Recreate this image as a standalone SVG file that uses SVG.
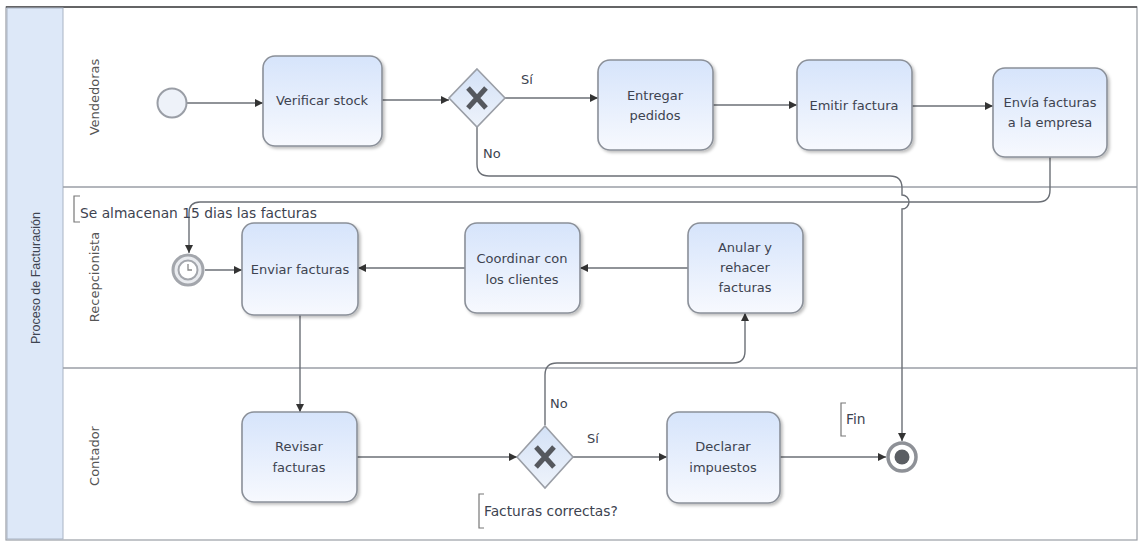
<svg xmlns="http://www.w3.org/2000/svg" width="1140" height="545" viewBox="0 0 1140 545">
<style>
text{font-family:"DejaVu Sans","Liberation Sans",Arial,sans-serif;fill:#3d4350;font-size:13px}
.task{fill:url(#tg);stroke:#8b9099;stroke-width:1.6;filter:url(#sh)}
.lbl{text-anchor:middle}
.lane{font-size:13px;fill:#555}
.note{font-size:13.8px}
.conn path{fill:none;stroke:#6b6f76;stroke-width:1.4}
.arr{marker-end:url(#ah)}
.ann{fill:none;stroke:#777;stroke-width:1.2}
.gw{fill:url(#gg);stroke:#9a9ea6;stroke-width:1.6}
.x{stroke:#55585e;stroke-width:5;stroke-linecap:butt}
</style>
<defs>
<linearGradient id="tg" x1="0" y1="0" x2="0" y2="1"><stop offset="0" stop-color="#d6e4fb"/><stop offset="1" stop-color="#f7f9fe"/></linearGradient>
<linearGradient id="gg" x1="0" y1="0" x2="0" y2="1"><stop offset="0" stop-color="#d3e1f6"/><stop offset="1" stop-color="#eef3fb"/></linearGradient>
<filter id="sh" x="-10%" y="-10%" width="125%" height="125%"><feDropShadow dx="2" dy="2" stdDeviation="1.5" flood-color="#000" flood-opacity="0.25"/></filter>
<marker id="ah" viewBox="0 0 10 10" refX="10" refY="5" markerWidth="8" markerHeight="8" markerUnits="userSpaceOnUse" orient="auto"><path d="M0,0 L10,5 L0,10 Z" fill="#333"/></marker>
</defs>
<rect width="1140" height="545" fill="#fff"/>
<g id="pool">
<rect x="6" y="7" width="1131" height="533" fill="none" stroke="#9a9ea6" stroke-width="1.2"/>
<line x1="6" y1="7" x2="1137" y2="7" stroke="#444" stroke-width="1.6"/>
<rect x="7" y="8" width="56" height="531" fill="#dde8f8" stroke="#a9b4c4" stroke-width="1"/>
<text transform="translate(40,278) rotate(-90)" class="lbl" style="font-family:'Liberation Sans',Arial,sans-serif;font-size:12.5px">Proceso de Facturación</text>
<line x1="63" y1="187" x2="1137" y2="187" stroke="#9a9ea6" stroke-width="1.6"/>
<line x1="63" y1="368" x2="1137" y2="368" stroke="#9a9ea6" stroke-width="1.6"/>
<text class="lane lbl" transform="translate(99,97) rotate(-90)">Vendedoras</text>
<text class="lane lbl" transform="translate(99,277) rotate(-90)">Recepcionista</text>
<text class="lane lbl" transform="translate(99,456) rotate(-90)">Contador</text>
</g>
<g class="conn" id="connectors">
<path class="arr" d="M187,103 H263"/>
<path class="arr" d="M382,100 H449"/>
<path class="arr" d="M505,98 H598"/>
<path class="arr" d="M713,105 H797"/>
<path class="arr" d="M912,106 H993"/>
<path class="arr" d="M1050,157 V190 Q1050,202 1038,202 H200 Q189,202 189,213 V253"/>
<path class="arr" d="M477,127 V164 Q477,176 489,176 H890 Q902,176 902,188 V195 A7,7 0 0 1 902,209 V441"/>
<path class="arr" d="M205,270 H242"/>
<path class="arr" d="M465,268 H358"/>
<path class="arr" d="M688,268 H580"/>
<path class="arr" d="M300,315 V412"/>
<path class="arr" d="M357,457 H517"/>
<path class="arr" d="M545,425 V375 Q545,363 557,363 H733 Q745,363 745,351 V313"/>
<path class="arr" d="M573,457 H667"/>
<path class="arr" d="M780,457 H886"/>
</g>
<g id="labels">
<text x="521" y="84">Sí</text>
<text x="483" y="158">No</text>
<text x="550" y="408">No</text>
<text x="587" y="443">Sí</text>
</g>
<g id="start">
<circle cx="172" cy="103" r="14.5" fill="#eef2f9" stroke="#9a9ea6" stroke-width="2"/>
</g>
<g id="verificar">
<rect class="task" x="263" y="56" width="119" height="90" rx="12"/>
<text class="lbl" x="322" y="105">Verificar stock</text>
</g>
<g id="gw1">
<path class="gw" d="M477,69 L505,98 L477,127 L449,98 Z"/>
<path class="x" d="M468,88 L486,108 M486,88 L468,108"/>
</g>
<g id="entregar">
<rect class="task" x="598" y="60" width="115" height="90" rx="12"/>
<text class="lbl" x="655" y="100">Entregar</text>
<text class="lbl" x="655" y="120">pedidos</text>
</g>
<g id="emitir">
<rect class="task" x="797" y="60" width="115" height="90" rx="12"/>
<text class="lbl" x="854" y="110">Emitir factura</text>
</g>
<g id="envia">
<rect class="task" x="993" y="68" width="114" height="89" rx="12"/>
<text class="lbl" x="1050" y="107">Envía facturas</text>
<text class="lbl" x="1050" y="127">a la empresa</text>
</g>
<g id="note1">
<path class="ann" d="M80,196 H74 V222 H80"/>
<text class="note" x="80" y="218">Se almacenan 15 dias las facturas</text>
</g>
<g id="timer">
<circle cx="188" cy="270" r="15" fill="#e9ebef" stroke="#a3a6ac" stroke-width="3"/>
<circle cx="188" cy="270" r="9.5" fill="#fff" stroke="#a3a6ac" stroke-width="2"/>
<path d="M188,264 V270 H192" fill="none" stroke="#888" stroke-width="1.3"/>
</g>
<g id="enviar">
<rect class="task" x="242" y="223" width="116" height="92" rx="12"/>
<text class="lbl" x="300" y="274">Enviar facturas</text>
</g>
<g id="coordinar">
<rect class="task" x="465" y="223" width="115" height="90" rx="12"/>
<text class="lbl" x="522" y="263">Coordinar con</text>
<text class="lbl" x="522" y="284">los clientes</text>
</g>
<g id="anular">
<rect class="task" x="688" y="223" width="115" height="90" rx="12"/>
<text class="lbl" x="745" y="252">Anular y</text>
<text class="lbl" x="745" y="272">rehacer</text>
<text class="lbl" x="745" y="292">facturas</text>
</g>
<g id="revisar">
<rect class="task" x="242" y="412" width="115" height="90" rx="12"/>
<text class="lbl" x="299" y="451">Revisar</text>
<text class="lbl" x="299" y="472">facturas</text>
</g>
<g id="gw2">
<path class="gw" d="M545,426 L573,457 L545,488 L517,457 Z"/>
<path class="x" d="M536,447 L554,467 M554,447 L536,467"/>
</g>
<g id="note2">
<path class="ann" d="M484,494 H479 V528 H484"/>
<text class="note" x="484" y="516">Facturas correctas?</text>
</g>
<g id="declarar">
<rect class="task" x="667" y="412" width="113" height="91" rx="12"/>
<text class="lbl" x="723" y="451">Declarar</text>
<text class="lbl" x="723" y="472">impuestos</text>
</g>
<g id="note3">
<path class="ann" d="M846,403 H841 V436 H846"/>
<text class="note" x="846" y="424">Fin</text>
</g>
<g id="end">
<circle cx="902" cy="457" r="14" fill="#fff" stroke="#8e9197" stroke-width="3.5"/>
<circle cx="902" cy="457" r="7.5" fill="#5b5e63"/>
</g>
</svg>
